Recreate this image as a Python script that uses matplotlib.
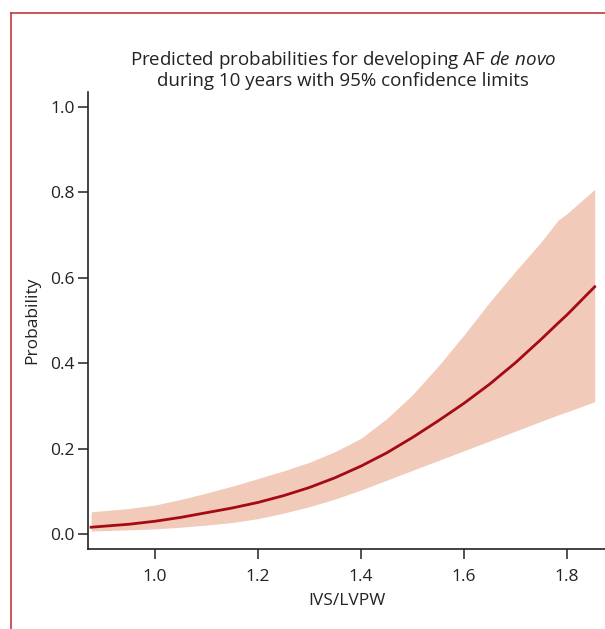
import numpy as np
import matplotlib
matplotlib.use('Agg')
import matplotlib.pyplot as plt
from matplotlib.lines import Line2D

# Значения
ivs_lvpw = [0.876, 0.95, 1.0, 1.05, 1.1, 1.15, 1.2, 1.25, 1.3, 1.35, 1.4, 1.45, 1.5,
            1.55, 1.6, 1.65, 1.7, 1.75, 1.783, 1.8, 1.854]
prob = [0.016, 0.023, 0.030, 0.039, 0.050, 0.061, 0.074, 0.090, 0.109, 0.132, 0.159,
        0.190, 0.226, 0.265, 0.306, 0.351, 0.401, 0.456, 0.494, 0.513, 0.579]
upper = [0.052, 0.060, 0.068, 0.081, 0.096, 0.112, 0.130, 0.148, 0.168, 0.193, 0.224,
         0.270, 0.326, 0.393, 0.466, 0.543, 0.615, 0.684, 0.735, 0.750, 0.807]
lower = [0.007, 0.010, 0.012, 0.016, 0.021, 0.027, 0.036, 0.049, 0.064, 0.082, 0.103,
         0.126, 0.149, 0.172, 0.195, 0.218, 0.241, 0.264, 0.279, 0.286, 0.310]

plt.rcParams['font.family'] = ['Open Sans', 'DejaVu Sans']
plt.rcParams['mathtext.fontset'] = 'custom'
plt.rcParams['mathtext.rm'] = 'Open Sans'
plt.rcParams['mathtext.it'] = 'Open Sans:italic'

fig = plt.figure(figsize=(6.05, 6.29), dpi=100)
ax = fig.add_axes([88 / 605, 80 / 629, 517 / 605, 457 / 629])

# Доверительный интервал и кривая
ax.fill_between(ivs_lvpw, lower, upper, color='#F1CABA', linewidth=0)
ax.plot(ivs_lvpw, prob, color='#A50A14', linewidth=2)

ax.set_xlim(0.87, 1.874)
ax.set_ylim(-0.035, 1.035)
ax.set_xticks([1.0, 1.2, 1.4, 1.6, 1.8])
ax.set_yticks([0.0, 0.2, 0.4, 0.6, 0.8, 1.0])
ax.xaxis.set_major_formatter(matplotlib.ticker.FormatStrFormatter('%.1f'))
ax.yaxis.set_major_formatter(matplotlib.ticker.FormatStrFormatter('%.1f'))

for s in ['top', 'right']:
    ax.spines[s].set_visible(False)
for s in ['left', 'bottom']:
    ax.spines[s].set_linewidth(1.2)
    ax.spines[s].set_color('#222222')
ax.tick_params(direction='out', length=7.5, width=1.1, labelsize=12.5,
               colors='#222222', pad=2)
ax.tick_params(axis='x', pad=7)

ax.set_xlabel('IVS/LVPW', fontsize=12.5, color='#222222', labelpad=6)
ax.set_ylabel('Probability', fontsize=12.5, color='#222222', labelpad=7)

fig.text(0.567, 0.89, 'Predicted probabilities for developing AF $\\it{de\\ novo}$\n'
         'during 10 years with 95% confidence limits',
         ha='center', va='center', fontsize=13.5, color='#222222', linespacing=1.08)

# Рамка вокруг рисунка
fig.add_artist(Line2D([11 / 605, 1.0], [1 - 13 / 629, 1 - 13 / 629],
                      color='#C0393B', linewidth=1.2, transform=fig.transFigure))
fig.add_artist(Line2D([11 / 605, 11 / 605], [0.0, 1 - 13 / 629],
                      color='#C0393B', linewidth=1.2, transform=fig.transFigure))

fig.savefig('out.png', dpi=100)
